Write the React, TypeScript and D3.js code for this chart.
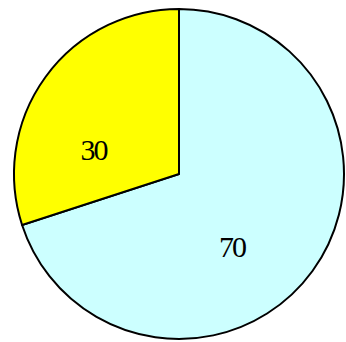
import React from 'react';
import * as d3 from 'd3';

// DATA
const labels = ['70', '30'];
const values = [70, 30];
const colors = ['#CCFFFF', '#FFFF00'];

// label placement nudges (degrees), reference labels are not at exact centroids
const labelShift = [18, -20];

const App = () => {
  const w = 346,
    h = 342;
  const cx = 179,
    cy = 174,
    r = 165;

  const pie = d3
    .pie<number>()
    .sort(null)
    .value((d) => d);
  const arcs = pie(values);

  const arc = d3.arc<d3.PieArcDatum<number>>().innerRadius(0).outerRadius(r);

  const labelPos = (d: d3.PieArcDatum<number>, i: number) => {
    const a = (d.startAngle + d.endAngle) / 2 + (labelShift[i] * Math.PI) / 180;
    const lr = i === 0 ? 90 : 89;
    return [lr * Math.sin(a), -lr * Math.cos(a)];
  };

  return (
    <svg
      width={w}
      height={h}
      style={{ position: 'absolute', left: 0, top: 0, display: 'block' }}
    >
      <g transform={`translate(${cx},${cy})`}>
        {arcs.map((d, i) => (
          <path
            key={i}
            d={arc(d) || ''}
            fill={colors[i]}
            stroke="#000"
            strokeWidth={2}
            strokeLinejoin="round"
          />
        ))}
        {arcs.map((d, i) => {
          const [x, y] = labelPos(d, i);
          return (
            <text
              key={'t' + i}
              x={x}
              y={y}
              textAnchor="middle"
              dominantBaseline="central"
              fontFamily="'Liberation Serif', 'DejaVu Serif', serif"
              fontSize={30}
              letterSpacing={-2}
              fill="#000"
            >
              {labels[i]}
            </text>
          );
        })}
      </g>
    </svg>
  );
};

export default App;
